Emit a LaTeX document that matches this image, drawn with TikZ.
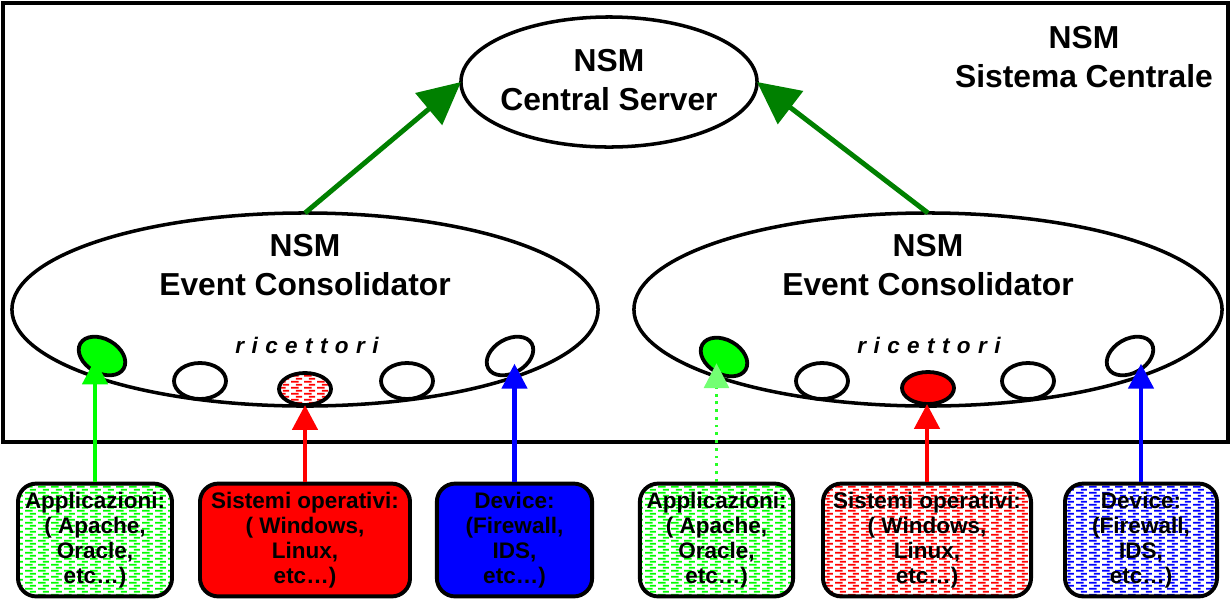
\documentclass[tikz,border=0pt]{standalone}
\usepackage{fontspec}
\setmainfont{Liberation Sans}
\usetikzlibrary{shapes.geometric,arrows.meta,patterns.meta}
\definecolor{dkgreen}{RGB}{0,128,0}
\definecolor{pgreen}{RGB}{0,255,0}
\definecolor{pred}{RGB}{255,0,0}
\definecolor{pblue}{RGB}{0,0,255}
\tikzdeclarepattern{
  name=dashfill,
  type=uncolored,
  bounding box={(0pt,0pt) and (9pt,4.2pt)},
  tile size={(9pt,4.2pt)},
  code={
    \pgfpathrectangle{\pgfpoint{0pt}{0.3pt}}{\pgfpoint{5.5pt}{1.2pt}}
    \pgfpathrectangle{\pgfpoint{3.5pt}{2.4pt}}{\pgfpoint{4.5pt}{1.2pt}}
    \pgfusepath{fill}
  }
}
\newcommand{\ricword}{r\hspace{0.33em}i\hspace{0.33em}c\hspace{0.33em}e\hspace{0.33em}t\hspace{0.33em}t\hspace{0.33em}o\hspace{0.33em}r\hspace{0.33em}i}
\begin{document}
\begin{tikzpicture}[x=0.025cm,y=-0.025cm,
  bigtxt/.style={font=\fontsize{22.6}{27.8}\selectfont\bfseries, align=center, inner sep=0pt},
  ricfont/.style={font=\fontsize{16}{18}\selectfont\bfseries\itshape, inner sep=0pt},
  bigell/.style={ellipse, draw, line width=2.5pt, fill=white, inner sep=0pt, outer sep=0pt},
  recep/.style={ellipse, draw, line width=2.7pt, fill=white, inner sep=0pt, outer sep=0pt,
     minimum width=1.3cm, minimum height=0.9cm},
  srcbox/.style={draw, line width=2.8pt, rounded corners=13pt, minimum height=2.82cm,
     inner sep=0pt, align=center, font=\fontsize{16}{17.9}\selectfont\bfseries},
  hatch/.style={preaction={fill=white}, pattern=dashfill, pattern color=#1},
  uparrow/.style={line width=3.5pt, -{Triangle[length=30pt,width=29pt]}, draw=dkgreen, fill=dkgreen},
  varrow/.style={line width=3.4pt, -{Triangle[length=17.7pt,width=17.7pt]}}
]
\useasboundingbox (0,0) rectangle (1231,601);
\draw[line width=2.4pt] (3,3) rectangle (1228,442);

% central server
\node[bigell, minimum width=7.4cm, minimum height=3.25cm] (cs) at (609,82) {};
\node[bigtxt] (cst) at (609,80) {NSM\\Central Server};
\node[bigtxt] (sc) at (1084,57) {NSM\\Sistema Centrale};

% event consolidators
\node[bigell, minimum width=14.65cm, minimum height=4.825cm] (ec1) at (305,309.5) {};
\node[bigtxt] (ec1t) at (305,265) {NSM\\Event Consolidator};
\node[bigell, minimum width=14.7cm, minimum height=4.825cm] (ec2) at (928,309.5) {};
\node[bigtxt] (ec2t) at (928,265) {NSM\\Event Consolidator};

\node[ricfont] (ric1) at (307,345) {\ricword};
\node[ricfont] (ric2) at (929,345) {\ricword};

% receptors left
\node[recep, minimum width=1.25cm, minimum height=0.85cm, rotate=-30, fill=pgreen] (r11) at (102,356) {};
\node[recep] (r12) at (200,381) {};
\node[recep, minimum height=0.8cm, hatch=pred] (r13) at (305,389) {};
\node[recep] (r14) at (407,381) {};
\node[recep, minimum width=1.25cm, minimum height=0.85cm, rotate=30] (r15) at (510,356) {};
% receptors right
\node[recep, minimum width=1.25cm, minimum height=0.85cm, rotate=-30, fill=pgreen] (r21) at (724,357) {};
\node[recep] (r22) at (822,381) {};
\node[recep, minimum height=0.8cm, fill=pred] (r23) at (928,388) {};
\node[recep] (r24) at (1028,381) {};
\node[recep, minimum width=1.25cm, minimum height=0.85cm, rotate=30] (r25) at (1130,356) {};

% arrows to central server
\draw[uparrow] (ec1.north) -- (cs.west);
\draw[uparrow] (ec2.north) -- (cs.east);

% source boxes
\node[srcbox, minimum width=3.85cm, hatch=pgreen] (b1) at (95,540) {Applicazioni:\\( Apache,\\Oracle,\\etc…)};
\node[srcbox, minimum width=5.25cm, fill=pred] (b2) at (305,540) {Sistemi operativi:\\( Windows,\\Linux,\\etc…)};
\node[srcbox, minimum width=3.88cm, fill=pblue] (b3) at (514.5,540) {Device:\\(Firewall,\\IDS,\\etc…)};
\node[srcbox, minimum width=3.83cm, hatch=pgreen] (b4) at (716.5,540) {Applicazioni:\\( Apache,\\Oracle,\\etc…)};
\node[srcbox, minimum width=5.2cm, hatch=pred] (b5) at (927,540) {Sistemi operativi:\\( Windows,\\Linux,\\etc…)};
\node[srcbox, minimum width=3.8cm, hatch=pblue] (b6) at (1141,540) {Device:\\(Firewall,\\IDS,\\etc…)};

% vertical arrows
\draw[varrow, draw=pgreen, fill=pgreen, shorten >=-8pt] (b1.north) -- (b1.north |- r11.south);
\draw[varrow, draw=pred, fill=pred] (b2.north) -- (b2.north |- r13.south);
\draw[varrow, draw=pblue, fill=pblue, shorten >=-5pt] (b3.north) -- (b3.north |- r15.south);
\draw[line width=2.6pt, draw=pgreen!85, dash pattern=on 2pt off 3.5pt,
      -{Triangle[length=17.7pt,width=17.7pt,color=pgreen!55,fill=pgreen!55]}, shorten >=-6pt]
      (b4.north) -- (b4.north |- r21.south);
\draw[varrow, draw=pred, fill=pred] (b5.north) -- (b5.north |- r23.south);
\draw[varrow, draw=pblue, fill=pblue, shorten >=-5pt] (b6.north) -- (b6.north |- r25.south);
\end{tikzpicture}
\end{document}
